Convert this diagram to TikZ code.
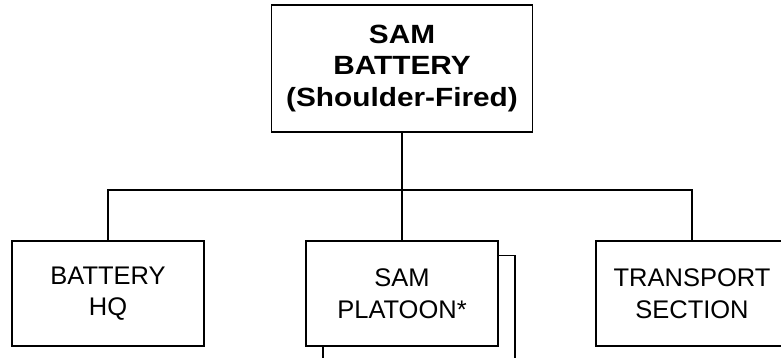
\documentclass[tikz,border=0pt]{standalone}
\usepackage{fontspec}
\setmainfont{Liberation Sans}
\newfontfamily\headfont[FakeStretch=1.13]{Liberation Sans}
\usetikzlibrary{positioning}
\tikzset{
  every node/.style={font=\fontsize{14.5}{18}\selectfont},
  head/.style={
    draw=black, line width=1.1pt, fill=white,
    minimum width=5.22cm, minimum height=2.54cm,
    align=center, inner sep=0pt,
    font=\headfont\fontsize{15}{18}\selectfont\bfseries
  },
  unit/.style={
    draw=black, line width=1.1pt, fill=white,
    minimum width=3.84cm, minimum height=2.1cm,
    align=center, inner sep=0pt
  },
  link/.style={line width=1pt},
}

\begin{document}
\begin{tikzpicture}[x=0.02cm, y=-0.02cm]
  \clip (0,0) rectangle (781,358);

  % Battery box
  \node[head] (bty) at (402,68.5) {SAM\\ BATTERY\\ (Shoulder-Fired)};

  % Subordinate boxes
  \node[unit] (hq)  at (108,293.5) {BATTERY\\ HQ};
  \node[unit] (pltb) at (419,308) {};
  \node[unit] (plt) at (402,293.5) {SAM\\ PLATOON*};
  \node[unit] (sec) at (692,293.5) {TRANSPORT\\ SECTION};

  % Bus line
  \coordinate (bus) at (402,190);
  \draw[link] (bty.south) -- (plt.north);
  \draw[link] (hq.north) -- (hq.north |- bus) -- (sec.north |- bus) -- (sec.north);
\end{tikzpicture}
\end{document}
